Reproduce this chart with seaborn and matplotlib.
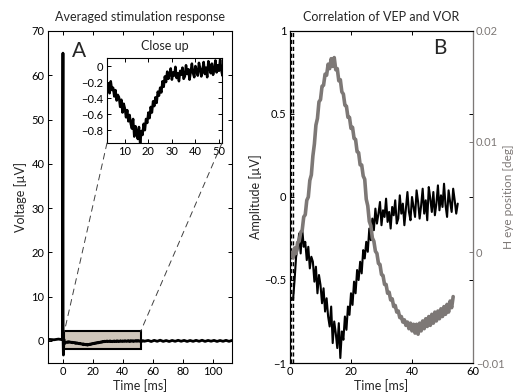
import numpy as np
import matplotlib
matplotlib.use("Agg")
import matplotlib.pyplot as plt
import seaborn as sns
from matplotlib.patches import Rectangle, ConnectionPatch

# ---------------- data ----------------
# VEP amplitude [uV], sampled every 0.5 ms starting at 1.0 ms
vep_t0, vep_dt = 1.0, 0.5
vep = [-0.62, -0.50, -0.36, -0.31, -0.22, -0.34, -0.19, -0.30, -0.27, -0.38,
       -0.30, -0.43, -0.36, -0.39, -0.51, -0.42, -0.58, -0.47, -0.53, -0.64,
       -0.55, -0.69, -0.61, -0.72, -0.78, -0.66, -0.88, -0.75, -0.82, -0.91,
       -0.76, -0.97, -0.81, -0.86, -0.72, -0.80, -0.66, -0.71, -0.58, -0.65,
       -0.51, -0.58, -0.44, -0.50, -0.39, -0.46, -0.32, -0.37, -0.27, -0.33,
       -0.19, -0.26, -0.13, -0.20, -0.07, -0.16, -0.10, -0.03, -0.17, -0.08,
       -0.12, -0.01, -0.15, -0.09, -0.19, -0.06, -0.11, -0.02, -0.16, -0.13,
       0.01, -0.10, -0.04, -0.17, -0.07, 0.03, -0.09, -0.14, 0.00, -0.06,
       -0.12, 0.04, -0.03, -0.13, -0.05, 0.05, -0.10, -0.02, -0.14, 0.06,
       -0.01, -0.09, 0.03, -0.11, -0.04, 0.07, -0.08, 0.01, -0.06, 0.08,
       -0.05, -0.12, 0.04, -0.03, -0.09, 0.05, -0.02, -0.10, -0.04]

# Horizontal eye position [deg], sampled every 0.5 ms starting at 0.5 ms
eye_t0, eye_dt = 0.5, 0.5
eye = [0.0000, -0.0005, 0.0004, -0.0001, 0.0009, 0.0010, 0.0018, 0.0020, 0.0032, 0.0034,
       0.0047, 0.0050, 0.0065, 0.0070, 0.0087, 0.0098, 0.0115, 0.0121, 0.0136, 0.0138,
       0.0150, 0.0151, 0.0161, 0.0160, 0.0170, 0.0166, 0.0175, 0.0168, 0.0176, 0.0165,
       0.0166, 0.0155, 0.0156, 0.0145, 0.0143, 0.0133, 0.0132, 0.0122, 0.0122, 0.0112,
       0.0113, 0.0103, 0.0102, 0.0091, 0.0090, 0.0079, 0.0079, 0.0069, 0.0066, 0.0048,
       0.0042, 0.0028, 0.0024, 0.0013, 0.0010, 0.0001, -0.0001, -0.0010, -0.0011, -0.0020,
       -0.0021, -0.0029, -0.0029, -0.0037, -0.0036, -0.0043, -0.0042, -0.0049, -0.0048, -0.0054,
       -0.0053, -0.0059, -0.0058, -0.0063, -0.0061, -0.0066, -0.0063, -0.0069, -0.0064, -0.0071,
       -0.0065, -0.0073, -0.0065, -0.0074, -0.0064, -0.0071, -0.0062, -0.0069, -0.0060, -0.0067,
       -0.0058, -0.0066, -0.0056, -0.0064, -0.0054, -0.0062, -0.0053, -0.0060, -0.0051, -0.0058,
       -0.0049, -0.0056, -0.0047, -0.0054, -0.0044, -0.0050, -0.0040]

# Full averaged response (left panel): pre-stimulus, stimulus spike, VEP, tail
pre_t = [-10.0, -6.0, -3.0, -1.0, -0.4]
pre_v = [0.35, 0.25, 0.40, 0.30, 0.50]
spike_t = [0.0, 0.1, 0.3, 0.6]
spike_v = [65.0, 0.0, -3.2, 0.4]
tail_t0, tail_dt = 57.0, 2.0
tail_v = [0.10, -0.15, 0.12, -0.10, 0.15, -0.12, 0.08, -0.14, 0.10, -0.10,
          0.13, -0.09, 0.11, -0.13, 0.09, -0.11, 0.12, -0.10, 0.14, -0.12,
          0.10, -0.08, 0.11, -0.13, 0.09, -0.10, 0.12, -0.11, 0.10]

# stimulus artifact markers (right panel)
artifact_t = [0.3, 0.9]

# zoom box (left panel)
zoom_t0, zoom_t1 = 1.0, 52.0
zoom_v0, zoom_v1 = -1.8, 2.2

left_xticks = [0, 20, 40, 60, 80, 100]
left_yticks = [0, 10, 20, 30, 40, 50, 60, 70]
inset_xticks = [10, 20, 30, 40, 50]
inset_yticks = [-0.8, -0.6, -0.4, -0.2, 0]
inset_ylabels = ["\u22120.8", "\u22120.6", "\u22120.4", "\u22120.2", "0"]
right_xticks = [0, 20, 40, 60]
right_yticks = [-1, -0.5, 0, 0.5, 1]
right_ylabels = ["\u22121", "\u22120.5", "0", "0.5", "1"]
eye_yticks = [-0.01, 0, 0.01, 0.02]
eye_ylabels = ["\u22120.01", "0", "0.01", "0.02"]

vep_t = vep_t0 + vep_dt * np.arange(len(vep))
eye_t = eye_t0 + eye_dt * np.arange(len(eye))
tail_t = tail_t0 + tail_dt * np.arange(len(tail_v))
full_t = np.concatenate([pre_t, spike_t, vep_t, tail_t])
full_v = np.concatenate([pre_v, spike_v, vep, tail_v])

# ---------------- style ----------------
sns.set_style("ticks")
plt.rcParams['font.family'] = ['Lato', 'DejaVu Sans']
plt.rcParams.update({
    'xtick.direction': 'in', 'ytick.direction': 'in',
    'xtick.top': True, 'ytick.right': True,
    'xtick.major.size': 3, 'ytick.major.size': 3,
    'xtick.major.width': 0.7, 'ytick.major.width': 0.7,
    'axes.linewidth': 0.8, 'axes.edgecolor': 'black',
    'xtick.color': 'black', 'ytick.color': 'black',
    'xtick.labelsize': 8, 'ytick.labelsize': 8,
    'xtick.major.pad': 2.5, 'ytick.major.pad': 2.5,
    'axes.unicode_minus': True,
})
gray = '#7d7876'
fs_lab = 9

fig = plt.figure(figsize=(5.15, 3.92), dpi=100)
W, H = 515, 392
axL = fig.add_axes([48 / W, 1 - 363 / H, 184 / W, 332 / H])
axR = fig.add_axes([290 / W, 1 - 363 / H, 183 / W, 332 / H])

# ---------------- left panel ----------------
axL.add_patch(Rectangle((zoom_t0, zoom_v0), zoom_t1 - zoom_t0, zoom_v1 - zoom_v0,
                        facecolor='#cfc6ba', edgecolor='black', lw=1.5, zorder=1))
sns.lineplot(x=full_t, y=full_v, ax=axL, color='black', lw=2.0,
             estimator=None, sort=False, zorder=3)
axL.set_xlim(-10, 113)
axL.set_ylim(-5, 70)
axL.set_xticks(left_xticks)
axL.set_yticks(left_yticks)
axL.set_xlabel("Time [ms]", fontsize=fs_lab, labelpad=1)
axL.set_ylabel("Voltage [\u00b5V]", fontsize=fs_lab, labelpad=3)
axL.set_title("Averaged stimulation response", fontsize=fs_lab, pad=7)
axL.text(0.17, 0.94, "A", transform=axL.transAxes, fontsize=15, ha='center', va='center')

# inset
axI = fig.add_axes([107 / W, 1 - 143 / H, 115 / W, 85 / H])
sns.lineplot(x=vep_t, y=vep, ax=axI, color='black', lw=1.8, estimator=None, sort=False)
axI.set_xlim(2.4, 51.3)
axI.set_ylim(-0.96, 0.1)
axI.set_xticks(inset_xticks)
axI.set_yticks(inset_yticks)
axI.set_yticklabels(inset_ylabels)
axI.set_title("Close up", fontsize=fs_lab, pad=6)
axI.set_xlabel("")
axI.set_ylabel("")

for xyA, xyB in [((0, 0), (zoom_t0, zoom_v1)), ((1, 0), (zoom_t1, zoom_v1))]:
    con = ConnectionPatch(xyA=xyA, coordsA=axI.transAxes, xyB=xyB, coordsB=axL.transData,
                          linestyle=(0, (6, 5)), color='0.25', lw=0.7)
    fig.add_artist(con)

# ---------------- right panel ----------------
sns.lineplot(x=vep_t, y=vep, ax=axR, color='black', lw=1.5, estimator=None, sort=False)
for t in artifact_t:
    axR.axvline(t, color='black', lw=1.0, ls=(0, (3, 2)))
axR.set_xlim(0, 60)
axR.set_ylim(-1, 1)
axR.set_xticks(right_xticks)
axR.set_yticks(right_yticks)
axR.set_yticklabels(right_ylabels)
axR.set_xlabel("Time [ms]", fontsize=fs_lab, labelpad=1)
axR.set_ylabel("Amplitude [\u00b5V]", fontsize=fs_lab, labelpad=2)
axR.set_title("Correlation of VEP and VOR", fontsize=fs_lab, pad=7)
axR.text(0.82, 0.95, "B", transform=axR.transAxes, fontsize=15, ha='center', va='center')

ax2 = axR.twinx()
sns.lineplot(x=eye_t, y=eye, ax=ax2, color=gray, lw=2.6, estimator=None, sort=False)
ax2.set_ylim(-0.01, 0.02)
ax2.set_yticks(eye_yticks)
ax2.set_yticklabels(eye_ylabels)
ax2.tick_params(axis='y', colors=gray, direction='in', pad=2)
ax2.spines['right'].set_color(gray)
ax2.set_ylabel("H eye position [deg]", fontsize=8.5, color=gray, labelpad=-1)
axR.tick_params(axis='y', right=True, labelright=False)

fig.savefig("out.png", dpi=100)
